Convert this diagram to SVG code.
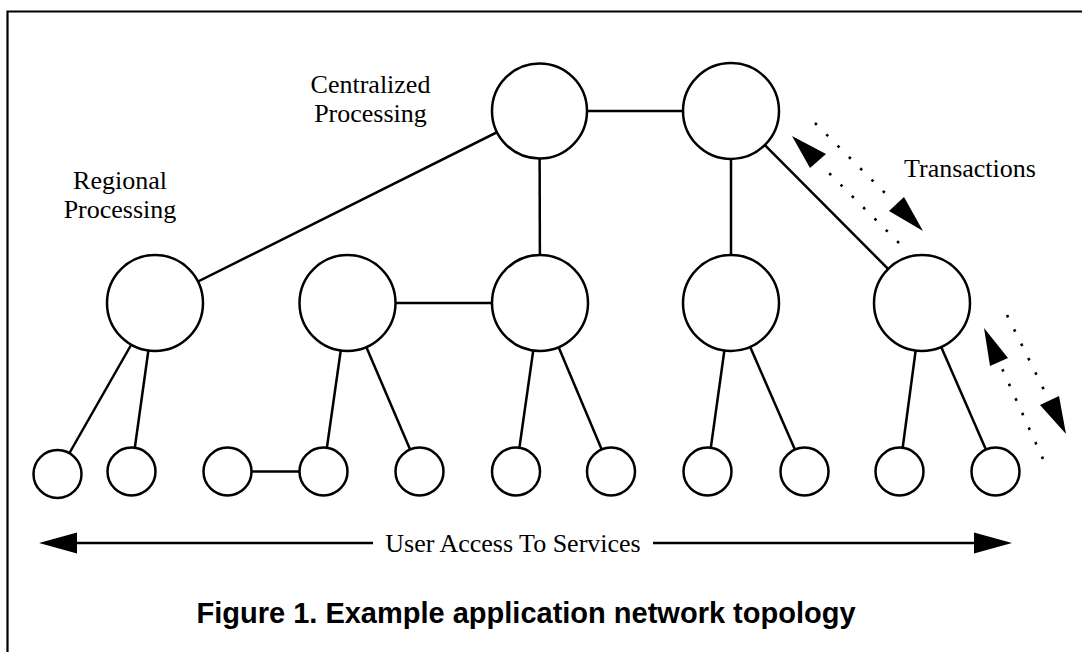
<svg xmlns="http://www.w3.org/2000/svg" width="1082" height="652" viewBox="0 0 1082 652">
<style>
  .ln{stroke:#000;stroke-width:2.5;fill:none}
  .nd{stroke:#000;stroke-width:2.5;fill:#fff}
  .dot{stroke:#000;stroke-width:2.6;fill:none;stroke-dasharray:2.6 13.4}
  .lbl{font-family:"Liberation Serif","Times New Roman",serif;font-size:26px;fill:#000}
  .cap{font-family:"Liberation Sans",Arial,sans-serif;font-size:29px;font-weight:bold;fill:#000}
  .ah{fill:#000;stroke:none}
</style>
<rect x="0" y="0" width="1082" height="652" fill="#fff"/>
<path d="M7.5 652 V11.5 H1082" fill="none" stroke="#000" stroke-width="2.2"/>
<g id="connectors">
  <line class="ln" x1="539.5" y1="111" x2="731" y2="111"/>
  <line class="ln" x1="539.5" y1="111" x2="155" y2="303"/>
  <line class="ln" x1="539.5" y1="111" x2="540" y2="303"/>
  <line class="ln" x1="731" y1="111" x2="731" y2="303"/>
  <line class="ln" x1="731" y1="111" x2="922" y2="303"/>
  <line class="ln" x1="347.5" y1="303" x2="540" y2="303"/>
  <line class="ln" x1="155" y1="303" x2="57.5" y2="474"/>
  <line class="ln" x1="155" y1="303" x2="131.5" y2="471.5"/>
  <line class="ln" x1="347.5" y1="303" x2="323.5" y2="471.5"/>
  <line class="ln" x1="347.5" y1="303" x2="419.5" y2="471.5"/>
  <line class="ln" x1="540" y1="303" x2="516" y2="471.5"/>
  <line class="ln" x1="540" y1="303" x2="611" y2="471.5"/>
  <line class="ln" x1="731" y1="303" x2="707.5" y2="471.5"/>
  <line class="ln" x1="731" y1="303" x2="804.5" y2="471.5"/>
  <line class="ln" x1="922" y1="303" x2="899.5" y2="471.5"/>
  <line class="ln" x1="922" y1="303" x2="995.5" y2="471.5"/>
  <line class="ln" x1="227.5" y1="471.5" x2="323.5" y2="471.5"/>
  <!-- transaction arrows -->
  <line class="dot" x1="899" y1="243" x2="820" y2="164"/>
  <polygon class="ah" points="792,136 810,168 826,154"/>
  <line class="dot" x1="815" y1="123" x2="894" y2="202"/>
  <polygon class="ah" points="923,231 889,211 904,197"/>
  <line class="dot" x1="1043" y1="459" x2="1000" y2="364"/>
  <polygon class="ah" points="984,328 990,366 1008,358"/>
  <line class="dot" x1="1007" y1="315" x2="1048" y2="398"/>
  <polygon class="ah" points="1066,434 1040,405 1059,396"/>
  <!-- user access arrow -->
  <line class="ln" x1="76" y1="543" x2="373" y2="543"/>
  <line class="ln" x1="653" y1="543" x2="976" y2="543"/>
  <polygon class="ah" points="39,543 77,532.5 77,553.5"/>
  <polygon class="ah" points="1012,543 974,532.5 974,553.5"/>
</g>
<g id="top1"><circle class="nd" cx="539.5" cy="111" r="47.5"/></g>
<g id="top2"><circle class="nd" cx="731" cy="111" r="48"/></g>
<g id="mid1"><circle class="nd" cx="155" cy="303" r="48"/></g>
<g id="mid2"><circle class="nd" cx="347.5" cy="303" r="48"/></g>
<g id="mid3"><circle class="nd" cx="540" cy="303" r="48"/></g>
<g id="mid4"><circle class="nd" cx="731" cy="303" r="48"/></g>
<g id="mid5"><circle class="nd" cx="922" cy="303" r="48"/></g>
<g id="leaf1"><circle class="nd" cx="57.5" cy="474" r="24"/></g>
<g id="leaf2"><circle class="nd" cx="131.5" cy="471.5" r="24"/></g>
<g id="leaf3"><circle class="nd" cx="227.5" cy="471.5" r="24"/></g>
<g id="leaf4"><circle class="nd" cx="323.5" cy="471.5" r="24"/></g>
<g id="leaf5"><circle class="nd" cx="419.5" cy="471.5" r="24"/></g>
<g id="leaf6"><circle class="nd" cx="516" cy="471.5" r="24"/></g>
<g id="leaf7"><circle class="nd" cx="611" cy="471.5" r="24"/></g>
<g id="leaf8"><circle class="nd" cx="707.5" cy="471.5" r="24"/></g>
<g id="leaf9"><circle class="nd" cx="804.5" cy="471.5" r="24"/></g>
<g id="leaf10"><circle class="nd" cx="899.5" cy="471.5" r="24"/></g>
<g id="leaf11"><circle class="nd" cx="995.5" cy="471.5" r="24"/></g>
<g id="labels">
  <text class="lbl" text-anchor="middle" x="370.5" y="93">Centralized</text>
  <text class="lbl" text-anchor="middle" x="370.5" y="122">Processing</text>
  <text class="lbl" text-anchor="middle" x="120" y="189">Regional</text>
  <text class="lbl" text-anchor="middle" x="120" y="218">Processing</text>
  <text class="lbl" x="904" y="177">Transactions</text>
  <text class="lbl" text-anchor="middle" x="513" y="552">User Access To Services</text>
  <text class="cap" text-anchor="middle" x="526" y="623">Figure 1. Example application network topology</text>
</g>
</svg>
